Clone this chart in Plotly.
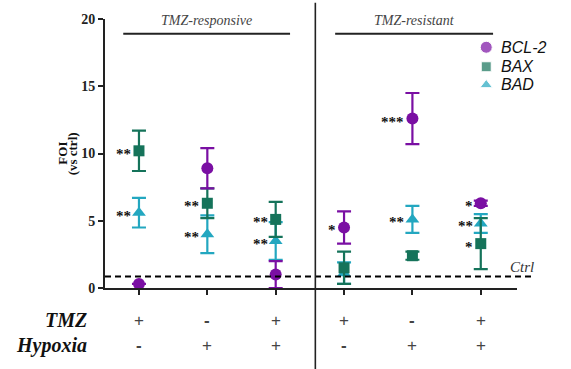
import plotly.graph_objects as go

# ---- data ----
positions = [1, 2, 3, 4, 5, 6]
tmz = ["+", "-", "+", "+", "-", "+"]
hypoxia = ["-", "+", "+", "-", "+", "+"]

bcl2 = [0.3, 8.9, 1.0, 4.5, 12.6, 6.3]
bcl2_err = [0.0, 1.5, 1.0, 1.2, 1.9, 0.2]
bax = [10.2, 6.3, 5.1, 1.5, 2.4, 3.3]
bax_err = [1.5, 1.1, 1.3, 1.2, 0.3, 1.9]
bad = [5.6, 4.0, 3.5, 1.1, 5.1, 4.8]
bad_err = [1.1, 1.4, 1.4, 0.8, 1.0, 0.7]

bcl2_sig = ["", "", "", "*", "***", "*"]
bax_sig = ["**", "**", "**", "", "", "*"]
bad_sig = ["**", "**", "**", "", "**", "**"]

ctrl_level = 0.85
y_ticks = [0, 5, 10, 15, 20]
groups = ["TMZ-responsive", "TMZ-resistant"]
legend_names = ["BCL-2", "BAX", "BAD"]

C_BCL2 = "#7a0fa3"
C_BAX = "#15735a"
C_BAD = "#23a7c0"

fig = go.Figure()

series = [
    ("BAD", bad, bad_err, C_BAD, "triangle-up", 12),
    ("BAX", bax, bax_err, C_BAX, "square", 11),
    ("BCL-2", bcl2, bcl2_err, C_BCL2, "circle", 12),
]
for name, vals, errs, col, sym, sz in series:
    fig.add_trace(go.Scatter(
        x=positions, y=vals, mode="markers", name=name,
        marker=dict(color=col, symbol=sym, size=sz),
        error_y=dict(type="data", array=errs, color=col, thickness=2.2, width=7),
        showlegend=False, cliponaxis=False,
    ))

# manual legend
leg_cols = [C_BCL2, C_BAX, C_BAD]
leg_syms = ["circle", "square", "triangle-up"]
leg_y = [17.9, 16.45, 15.1]
fig.add_trace(go.Scatter(
    x=[6.08] * 3, y=leg_y, mode="markers", showlegend=False, cliponaxis=False,
    marker=dict(color=leg_cols, symbol=leg_syms, size=[12, 10, 11]),
    hoverinfo="skip",
))
for name, yy in zip(legend_names, leg_y):
    fig.add_annotation(x=6.27, y=yy, xanchor="left", yanchor="middle", text="<i>" + name + "</i>",
                       showarrow=False, font=dict(family="Liberation Sans", size=16, color="#111"))

# significance stars
star_font = dict(family="Liberation Serif", size=15, color="#111")
for vals, sig in [(bcl2, bcl2_sig), (bax, bax_sig), (bad, bad_sig)]:
    for x, v, s in zip(positions, vals, sig):
        if s:
            fig.add_annotation(x=x, y=v, text="<b>" + s + "</b>", showarrow=False,
                               xanchor="right", yanchor="middle", xshift=-6, yshift=-3,
                               font=star_font)

# ctrl dashed line
fig.add_shape(type="line", xref="paper", yref="y", x0=0, x1=1.04,
              y0=ctrl_level, y1=ctrl_level, line=dict(color="black", width=2, dash="6px,4px"))
fig.add_annotation(xref="paper", yref="y", x=1.045, y=ctrl_level, yanchor="bottom",
                   xanchor="right", text="<i>Ctrl</i>", showarrow=False,
                   font=dict(family="Liberation Serif", size=15, color="#333"))

# divider
fig.add_shape(type="line", xref="x", yref="paper", x0=3.58, x1=3.58, y0=-0.31, y1=1.06,
              line=dict(color="#222", width=1.6))

# group header lines
for (x0, x1), lab in zip([(0.77, 3.21), (3.87, 6.18)], groups):
    fig.add_shape(type="line", xref="x", yref="y", x0=x0, x1=x1, y0=18.9, y1=18.9,
                  line=dict(color="#222", width=2))
    fig.add_annotation(x=(x0 + x1) / 2, y=19.2, yanchor="bottom", text="<i>" + lab + "</i>",
                       showarrow=False, font=dict(family="Liberation Serif", size=14, color="#444"))

# bottom condition rows
row_y = [-0.12, -0.213]
row_font = dict(family="Liberation Serif", size=20, color="#111")
fig.add_annotation(xref="paper", yref="paper", x=-0.04, y=row_y[0], xanchor="right", yanchor="middle",
                   text="<b><i>TMZ</i></b>", showarrow=False, font=row_font)
fig.add_annotation(xref="paper", yref="paper", x=-0.04, y=row_y[1], xanchor="right", yanchor="middle",
                   text="<b><i>Hypoxia</i></b>", showarrow=False, font=row_font)
sign_font = dict(family="Liberation Sans", size=17, color="#444")
for x, t, h in zip(positions, tmz, hypoxia):
    for yy, s in [(row_y[0], t), (row_y[1], h)]:
        fig.add_annotation(xref="x", yref="paper", x=x, y=yy, xanchor="center", yanchor="middle",
                           text=("<b>-</b>" if s == "-" else s),
                           showarrow=False, font=sign_font)

# y title
ttl_font = dict(family="Liberation Serif", size=13, color="#111")
fig.add_annotation(xref="paper", yref="paper", x=-0.104, y=0.5, xanchor="center", yanchor="middle",
                   text="<b>FOI</b>", textangle=-90, showarrow=False, font=ttl_font)
fig.add_annotation(xref="paper", yref="paper", x=-0.078, y=0.5, xanchor="center", yanchor="middle",
                   text="<b>(vs ctrl)</b>", textangle=-90, showarrow=False, font=ttl_font)

fig.update_layout(
    width=571, height=369,
    margin=dict(l=105, r=54, t=13, b=81),
    paper_bgcolor="white", plot_bgcolor="white",
    showlegend=False,
    xaxis=dict(range=[0.503, 6.53], showgrid=False, zeroline=False, showline=True,
               linecolor="#222", linewidth=2, ticks="outside", ticklen=5, tickwidth=2,
               tickcolor="#222", tickvals=positions, ticktext=[""] * 6),
    yaxis=dict(range=[0, 20], showgrid=False, zeroline=False, showline=True,
               linecolor="#222", linewidth=2, ticks="outside", ticklen=5, tickwidth=2,
               tickcolor="#222", tickvals=y_ticks, ticktext=["<b>%d</b>" % v for v in y_ticks],
               tickfont=dict(family="Liberation Serif", size=14, color="#222")),
)

fig.write_html("out.html")
